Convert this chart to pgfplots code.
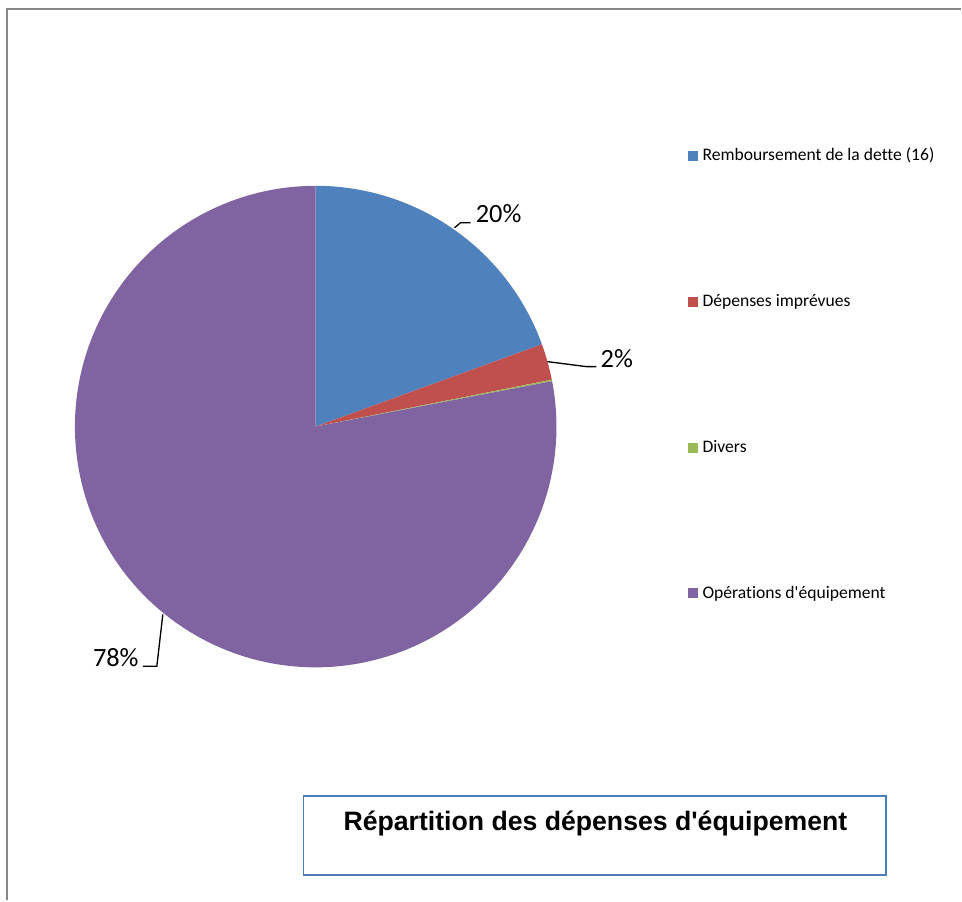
\documentclass[border=0pt]{standalone}
\usepackage{pgfplots}
\pgfplotsset{compat=1.18}
\usepackage{pgfplotstable}
\usepackage{fontspec}
\setmainfont{Carlito}[Ligatures={TeXOff,CommonOff}]
\newfontfamily\arialfont{Liberation Sans}[Ligatures={TeXOff}]

\definecolor{cblue}{HTML}{4F81BD}
\definecolor{cred}{HTML}{C0504D}
\definecolor{cgreen}{HTML}{9BBB59}
\definecolor{cpurple}{HTML}{8064A2}
\definecolor{framegray}{HTML}{878787}
\definecolor{boxblue}{HTML}{4A7EBB}

% parts of the spending, in percent
\pgfplotstableread{
val   col
19.45 cblue
2.43  cred
0.10  cgreen
78.02 cpurple
}\piedata

\begin{document}
\begin{tikzpicture}
\def\R{180.75pt}% radius of the pie (241 px)
\begin{axis}[
    scale only axis,
    width=721.5pt, height=675.75pt,
    xmin=0, xmax=962, ymin=0, ymax=901,
    y dir=reverse,
    hide axis,
    clip=false,
  ]
  % frame
  \draw[framegray, line width=1.5pt] (axis cs:7,901) -- (axis cs:7,9) -- (axis cs:962,9);

  % slices, clockwise from twelve o'clock
  \def\cum{0}
  \pgfplotsforeachungrouped \i in {0,...,3}{
    \pgfplotstablegetelem{\i}{val}\of\piedata \let\v\pgfplotsretval
    \pgfplotstablegetelem{\i}{col}\of\piedata \let\c\pgfplotsretval
    \pgfmathsetmacro{\a}{90-3.6*\cum}
    \pgfmathsetmacro{\b}{90-3.6*(\cum+\v)}
    \edef\temp{\noexpand\fill[\c] (axis cs:316,427) -- ++(\a:\noexpand\R)
      arc[start angle=\a, end angle=\b, radius=\noexpand\R] -- cycle;}
    \temp
    \pgfmathsetmacro{\cum}{\cum+\v}
  }

  % data labels
  \draw[black, line width=1pt] (axis cs:455,228) -- (axis cs:461,223) -- (axis cs:471,223);
  \node[anchor=base west, inner sep=0pt, font=\fontsize{19.8}{22}\selectfont] at (axis cs:476,223) {20\%};
  \draw[black, line width=1pt] (axis cs:548,362) -- (axis cs:587,367) -- (axis cs:597,367);
  \node[anchor=base west, inner sep=0pt, font=\fontsize{19.8}{22}\selectfont] at (axis cs:601,368) {2\%};
  \draw[black, line width=1pt] (axis cs:163,615) -- (axis cs:157,667) -- (axis cs:143,667);
  \node[anchor=base east, inner sep=0pt, font=\fontsize{19.8}{22}\selectfont] at (axis cs:139,667) {78\%};

  % legend
  \fill[cblue]   (axis cs:689,151) rectangle (axis cs:699,161);
  \fill[cred]    (axis cs:689,297) rectangle (axis cs:699,307);
  \fill[cgreen]  (axis cs:689,443) rectangle (axis cs:699,453);
  \fill[cpurple] (axis cs:689,589) rectangle (axis cs:699,599);
  \node[anchor=base west, inner sep=0pt, font=\fontsize{13.2}{15}\selectfont] at (axis cs:703,161) {Remboursement de la dette (16)};
  \node[anchor=base west, inner sep=0pt, font=\fontsize{13.2}{15}\selectfont] at (axis cs:703,307) {Dépenses imprévues};
  \node[anchor=base west, inner sep=0pt, font=\fontsize{13.2}{15}\selectfont] at (axis cs:703,453) {Divers};
  \node[anchor=base west, inner sep=0pt, font=\fontsize{13.2}{15}\selectfont] at (axis cs:703,599) {Opérations d'équipement};

  % title box
  \draw[boxblue, line width=1.2pt] (axis cs:304,797) rectangle (axis cs:887,876);
  \node[anchor=base, inner sep=0pt, font=\arialfont\bfseries\fontsize{20}{23}\selectfont] at (axis cs:596,831) {Répartition des dépenses d'équipement};
\end{axis}
\path (current axis.south west) rectangle (current axis.north east);
\end{tikzpicture}
\end{document}
